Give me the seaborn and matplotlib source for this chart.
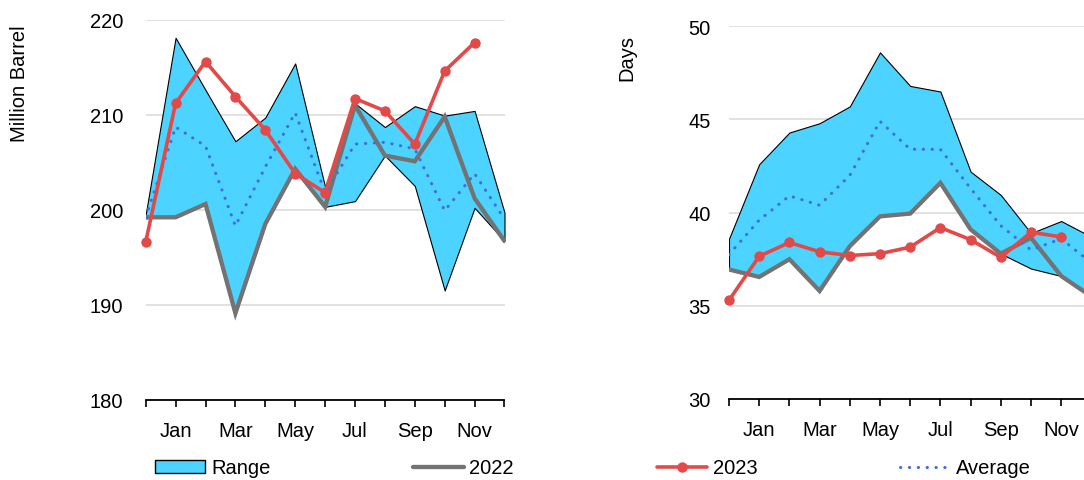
import numpy as np
import pandas as pd
import matplotlib
matplotlib.use("Agg")
import matplotlib.pyplot as plt
from matplotlib.patches import Patch
from matplotlib.lines import Line2D
import seaborn as sns

# ---------------- data ----------------
months = ["Dec", "Jan", "Feb", "Mar", "Apr", "May", "Jun",
          "Jul", "Aug", "Sep", "Oct", "Nov", "Dec"]
tick_labels = [m if i % 2 == 1 else "" for i, m in enumerate(months)]

# Left panel: Million Barrel
stock_range_hi = [199.5, 218.1, 212.6, 207.2, 209.7, 215.4, 202.4,
                  211.2, 208.7, 210.9, 209.9, 210.4, 199.7]
stock_range_lo = [199.1, 199.2, 200.6, 189.1, 198.5, 204.3, 200.3,
                  200.9, 205.7, 202.5, 191.5, 200.2, 196.7]
stock_2022 = [199.2, 199.2, 200.6, 189.1, 198.5, 204.3, 200.3,
              211.0, 205.7, 205.1, 209.8, 201.2, 196.7]
stock_2023 = [196.6, 211.2, 215.6, 211.9, 208.4, 203.8, 201.8,
              211.7, 210.4, 206.9, 214.6, 217.6]
stock_avg = [199.2, 208.7, 206.7, 198.3, 204.5, 210.2, 201.8,
             206.9, 207.1, 206.4, 199.9, 203.8, 199.0]

# Right panel: Days
days_range_hi = [38.6, 42.6, 44.3, 44.8, 45.7, 48.6, 46.8,
                 46.5, 42.2, 40.95, 38.9, 39.55, 38.7]
days_range_lo = [36.95, 36.55, 37.5, 35.8, 38.2, 39.8, 39.95,
                 41.6, 39.1, 37.8, 37.0, 36.6, 35.5]
days_2022 = [36.95, 36.55, 37.5, 35.8, 38.2, 39.8, 39.95,
             41.6, 39.1, 37.8, 38.65, 36.6, 35.5]
days_2023 = [35.3, 37.66, 38.4, 37.9, 37.7, 37.8, 38.15,
             39.2, 38.55, 37.6, 38.95, 38.7]
days_avg = [37.75, 39.6, 40.9, 40.4, 42.0, 44.9, 43.4,
            43.4, 41.3, 39.3, 38.0, 38.6, 37.3]

# ---------------- style ----------------
sns.set_theme(style="white")
plt.rcParams["font.family"] = ["Liberation Sans", "DejaVu Sans"]
plt.rcParams["text.color"] = "black"
plt.rcParams["xtick.color"] = "black"
plt.rcParams["ytick.color"] = "black"

FILL = "#4CD3FF"
GRAY = "#737373"
RED = "#E24A4A"
BLUE = "#3F6FD8"
FS = 14.5

fig = plt.figure(figsize=(10.84, 4.81), dpi=100)
W, H = 1084, 481
ax1 = fig.add_axes([145.7 / W, 1 - 400.7 / H, (504.5 - 145.7) / W, (400.7 - 20.7) / H])
ax2 = fig.add_axes([729 / W, 1 - 400.0 / H, (1091.4 - 729) / W, (400.0 - 27.3) / H])


def draw(ax, hi, lo, y22, y23, avg, ylim, yticks, ypad):
    idx = np.arange(len(months))
    ax.fill_between(idx, lo, hi, facecolor=FILL, edgecolor="black",
                    linewidth=0.8, zorder=2)
    df22 = pd.DataFrame({"x": idx, "y": y22})
    df23 = pd.DataFrame({"x": idx[:len(y23)], "y": y23})
    dfav = pd.DataFrame({"x": idx, "y": avg})
    sns.lineplot(data=df22, x="x", y="y", ax=ax, color=GRAY, linewidth=3.1,
                 zorder=3, solid_joinstyle="miter")
    sns.lineplot(data=dfav, x="x", y="y", ax=ax, color=BLUE, linewidth=2.2,
                 linestyle=(0, (0.1, 2.8)), dash_capstyle="round", zorder=4)
    sns.lineplot(data=df23, x="x", y="y", ax=ax, color=RED, linewidth=2.6,
                 marker="o", markersize=7.5, markeredgewidth=0,
                 markeredgecolor=RED, zorder=5, clip_on=False)
    ax.set_xlim(0, len(months) - 1)
    ax.set_ylim(*ylim)
    ax.set_yticks(yticks)
    ax.set_yticklabels([str(t) for t in yticks], fontsize=FS)
    ax.set_xticks(idx)
    ax.set_xticklabels(tick_labels, fontsize=FS)
    ax.set_xlabel("")
    ax.set_ylabel("")
    ax.grid(axis="y", color="#d9d9d9", linewidth=1.1, zorder=0)
    ax.set_axisbelow(True)
    for s in ["left", "right", "top"]:
        ax.spines[s].set_visible(False)
    ax.spines["bottom"].set_color("black")
    ax.spines["bottom"].set_linewidth(1.3)
    ax.tick_params(axis="x", bottom=True, length=5, width=1.2, color="black",
                   pad=10, labelcolor="black")
    ax.tick_params(axis="y", left=False, length=0, pad=ypad, labelcolor="black")


draw(ax1, stock_range_hi, stock_range_lo, stock_2022, stock_2023, stock_avg,
     (180, 220), [180, 190, 200, 210, 220], 16)
draw(ax2, days_range_hi, days_range_lo, days_2022, days_2023, days_avg,
     (30, 50), [30, 35, 40, 45, 50], 13)

fig.text(20 / W, 1 - 25 / H, "Million Barrel", rotation=90, va="top",
         ha="center", fontsize=FS, color="black")
fig.text(627 / W, 1 - 35 / H, "Days", rotation=90, va="top",
         ha="center", fontsize=FS, color="black")

handles = [
    Patch(facecolor=FILL, edgecolor="black", linewidth=1.0),
    Line2D([], [], color=GRAY, linewidth=3.1),
    Line2D([], [], color=RED, linewidth=2.6, marker="o", markersize=7.5,
           markeredgewidth=0),
    Line2D([], [], color=BLUE, linewidth=2.2, linestyle=(0, (0.1, 2.8)),
           dash_capstyle="round"),
]
labels = ["Range", "2022", "2023", "Average"]
fig.legend(handles, labels, loc="center left",
           bbox_to_anchor=(155 / W, 1 - 469 / H), ncol=4, frameon=False,
           fontsize=FS, handlelength=2.5, handletextpad=0.28,
           columnspacing=7.1, borderpad=0, borderaxespad=0,
           handleheight=0.6, markerscale=1.0)

fig.savefig("out.png", dpi=100)
